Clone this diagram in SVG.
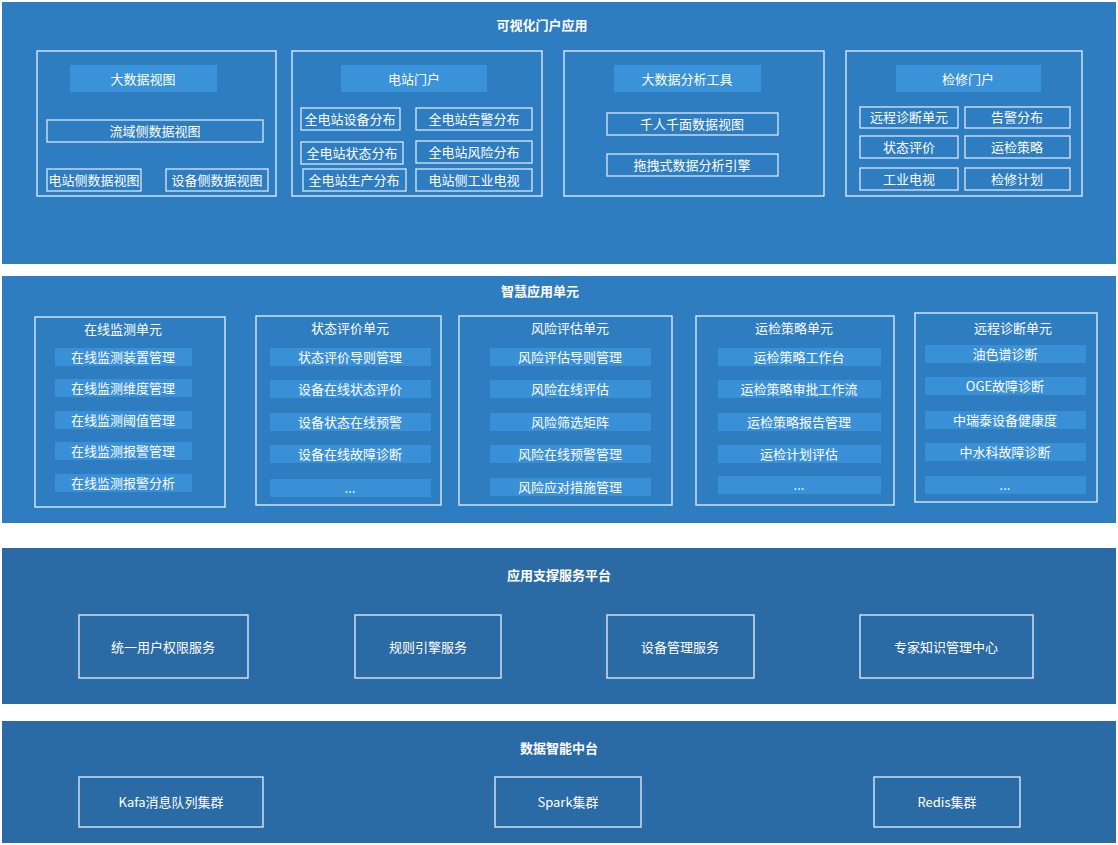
<svg xmlns="http://www.w3.org/2000/svg" width="1118" height="845" viewBox="0 0 1118 845">
<style>
text{font-family:"Noto Sans CJK SC","Noto Sans",sans-serif;fill:#fff;text-anchor:middle;dominant-baseline:central;font-size:13px}
.t{font-size:13px;font-weight:bold}
.p1{fill:#2e7dc0}
.p3{fill:#2b6ba5}
.ob{fill:none;stroke:#e6f0fa;stroke-width:1.3}
.hb{fill:#3a93d8}
.bar{fill:#3a90d6}
.ib{fill:none;stroke:#e6f0fa;stroke-width:1.2}
</style>
<rect width="1118" height="845" fill="#fff"/>
<g id="layer1">
<rect class="p1" x="2" y="2" width="1114" height="262"/>
<text class="t" x="542" y="24">可视化门户应用</text>
</g>
<g id="n-bigdata">
<rect class="ob" x="37" y="51" width="239" height="145"/>
<rect class="hb" x="70" y="65" width="147" height="27"/><text x="143" y="78">大数据视图</text>
<rect class="ib" x="47" y="120" width="216" height="22"/><text x="155" y="130">流域侧数据视图</text>
<rect class="ib" x="47" y="169" width="94" height="22"/><text x="94" y="179">电站侧数据视图</text>
<rect class="ib" x="166" y="169" width="102" height="22"/><text x="217" y="179">设备侧数据视图</text>
</g>
<g id="n-station">
<rect class="ob" x="292" y="51" width="250" height="145"/>
<rect class="hb" x="341" y="65" width="146" height="27"/><text x="414" y="78">电站门户</text>
<rect class="ib" x="301" y="108" width="99" height="22"/><text x="350" y="118">全电站设备分布</text>
<rect class="ib" x="416" y="108" width="116" height="22"/><text x="474" y="118">全电站告警分布</text>
<rect class="ib" x="301" y="142" width="102" height="22"/><text x="352" y="152">全电站状态分布</text>
<rect class="ib" x="416" y="141" width="116" height="22"/><text x="474" y="151">全电站风险分布</text>
<rect class="ib" x="303" y="169" width="103" height="22"/><text x="354" y="179">全电站生产分布</text>
<rect class="ib" x="416" y="169" width="116" height="22"/><text x="474" y="179">电站侧工业电视</text>
</g>
<g id="n-tools">
<rect class="ob" x="564" y="51" width="260" height="145"/>
<rect class="hb" x="614" y="65" width="147" height="27"/><text x="687" y="78">大数据分析工具</text>
<rect class="ib" x="607" y="113" width="171" height="22"/><text x="692" y="123">千人千面数据视图</text>
<rect class="ib" x="607" y="154" width="171" height="22"/><text x="692" y="164">拖拽式数据分析引擎</text>
</g>
<g id="n-repair">
<rect class="ob" x="846" y="51" width="236" height="145"/>
<rect class="hb" x="896" y="65" width="145" height="27"/><text x="968" y="78">检修门户</text>
<rect class="ib" x="860" y="107" width="98" height="21"/><text x="909" y="116">远程诊断单元</text>
<rect class="ib" x="965" y="107" width="105" height="21"/><text x="1017" y="116">告警分布</text>
<rect class="ib" x="860" y="136" width="98" height="22"/><text x="909" y="146">状态评价</text>
<rect class="ib" x="965" y="136" width="105" height="22"/><text x="1017" y="146">运检策略</text>
<rect class="ib" x="860" y="168" width="98" height="22"/><text x="909" y="178">工业电视</text>
<rect class="ib" x="965" y="168" width="105" height="22"/><text x="1017" y="178">检修计划</text>
</g>
<g id="layer2">
<rect class="p1" x="2" y="276" width="1114" height="247"/>
<text class="t" x="540" y="290">智慧应用单元</text>
</g>
<g id="n-online">
<rect class="ob" x="35" y="317" width="190" height="190"/>
<text x="123" y="328">在线监测单元</text>
<rect class="bar" x="55" y="348" width="137" height="18"/><text x="123" y="356">在线监测装置管理</text>
<rect class="bar" x="55" y="379" width="137" height="18"/><text x="123" y="387">在线监测维度管理</text>
<rect class="bar" x="55" y="411" width="137" height="18"/><text x="123" y="419">在线监测阈值管理</text>
<rect class="bar" x="55" y="442" width="137" height="18"/><text x="123" y="450">在线监测报警管理</text>
<rect class="bar" x="55" y="474" width="137" height="18"/><text x="123" y="482">在线监测报警分析</text>
</g>
<g id="n-state">
<rect class="ob" x="256" y="316" width="185" height="189"/>
<text x="350" y="327">状态评价单元</text>
<rect class="bar" x="270" y="348" width="161" height="18"/><text x="350" y="356">状态评价导则管理</text>
<rect class="bar" x="270" y="380" width="161" height="18"/><text x="350" y="388">设备在线状态评价</text>
<rect class="bar" x="270" y="413" width="161" height="18"/><text x="350" y="421">设备状态在线预警</text>
<rect class="bar" x="270" y="445" width="161" height="18"/><text x="350" y="453">设备在线故障诊断</text>
<rect class="bar" x="270" y="479" width="161" height="18"/><text x="350" y="487">...</text>
</g>
<g id="n-risk">
<rect class="ob" x="459" y="316" width="213" height="189"/>
<text x="570" y="327">风险评估单元</text>
<rect class="bar" x="490" y="348" width="161" height="18"/><text x="570" y="356">风险评估导则管理</text>
<rect class="bar" x="490" y="380" width="161" height="18"/><text x="570" y="388">风险在线评估</text>
<rect class="bar" x="490" y="413" width="161" height="18"/><text x="570" y="421">风险筛选矩阵</text>
<rect class="bar" x="490" y="445" width="161" height="18"/><text x="570" y="453">风险在线预警管理</text>
<rect class="bar" x="490" y="478" width="161" height="18"/><text x="570" y="486">风险应对措施管理</text>
</g>
<g id="n-strategy">
<rect class="ob" x="696" y="316" width="198" height="189"/>
<text x="794" y="327">运检策略单元</text>
<rect class="bar" x="718" y="348" width="163" height="18"/><text x="799" y="356">运检策略工作台</text>
<rect class="bar" x="718" y="380" width="163" height="18"/><text x="799" y="388">运检策略审批工作流</text>
<rect class="bar" x="718" y="413" width="163" height="18"/><text x="799" y="421">运检策略报告管理</text>
<rect class="bar" x="718" y="445" width="163" height="18"/><text x="799" y="453">运检计划评估</text>
<rect class="bar" x="718" y="476" width="163" height="18"/><text x="799" y="484">...</text>
</g>
<g id="n-remote">
<rect class="ob" x="915" y="313" width="182" height="189"/>
<text x="1013" y="327">远程诊断单元</text>
<rect class="bar" x="925" y="345" width="161" height="18"/><text x="1005" y="353">油色谱诊断</text>
<rect class="bar" x="925" y="377" width="161" height="18"/><text x="1005" y="385">OGE故障诊断</text>
<rect class="bar" x="925" y="411" width="161" height="18"/><text x="1005" y="419">中瑞泰设备健康度</text>
<rect class="bar" x="925" y="443" width="161" height="18"/><text x="1005" y="451">中水科故障诊断</text>
<rect class="bar" x="925" y="476" width="161" height="18"/><text x="1005" y="484">...</text>
</g>
<g id="layer3">
<rect class="p3" x="2" y="548" width="1114" height="156"/>
<text class="t" x="559" y="574">应用支撑服务平台</text>
</g>
<g id="n-s1"><rect class="ob" x="79" y="615" width="169" height="63"/><text x="163" y="646">统一用户权限服务</text></g>
<g id="n-s2"><rect class="ob" x="355" y="615" width="146" height="63"/><text x="428" y="646">规则引擎服务</text></g>
<g id="n-s3"><rect class="ob" x="607" y="615" width="147" height="63"/><text x="680" y="646">设备管理服务</text></g>
<g id="n-s4"><rect class="ob" x="860" y="615" width="173" height="63"/><text x="946" y="646">专家知识管理中心</text></g>
<g id="layer4">
<rect class="p3" x="2" y="721" width="1114" height="122"/>
<text class="t" x="559" y="747">数据智能中台</text>
</g>
<g id="n-d1"><rect class="ob" x="79" y="777" width="184" height="50"/><text x="171" y="801">Kafa消息队列集群</text></g>
<g id="n-d2"><rect class="ob" x="495" y="777" width="146" height="50"/><text x="568" y="801">Spark集群</text></g>
<g id="n-d3"><rect class="ob" x="874" y="777" width="146" height="50"/><text x="947" y="801">Redis集群</text></g>
<g id="connectors"/>
</svg>
